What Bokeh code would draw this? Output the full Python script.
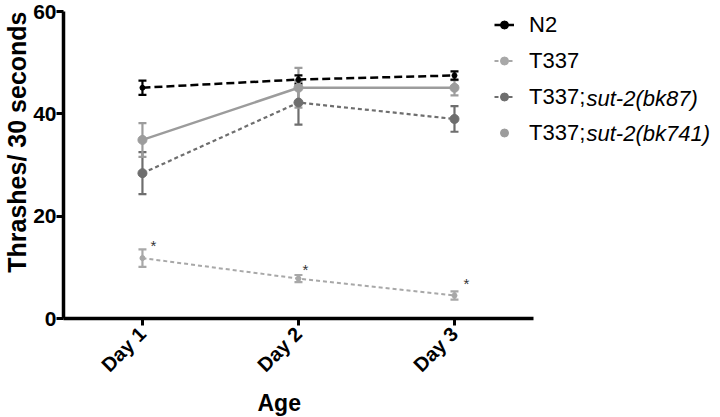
from bokeh.plotting import figure
from bokeh.models import (ColumnDataSource, Whisker, TeeHead, Legend, LegendItem,
                          Label, FixedTicker, Title)
from bokeh.core.properties import value
from bokeh.embed import file_html
from bokeh.resources import INLINE

# ---- data ----
days = [1, 2, 3]
day_labels = ["Day 1", "Day 2", "Day 3"]

n2_mean = [45.1, 46.7, 47.5]
n2_err = [1.4, 0.8, 0.8]

t337_mean = [11.8, 7.8, 4.5]
t337_err = [1.7, 0.7, 0.8]

bk87_mean = [28.4, 42.2, 39.0]
bk87_err = [4.1, 4.3, 2.5]

bk741_mean = [34.9, 45.1, 45.1]
bk741_err = [3.3, 3.9, 1.5]

sig_x = [1.07, 2.045, 3.077]
sig_y = [14.3, 9.5, 6.8]

series_names = ["N2", "T337", "T337;", "T337;"]
italic_parts = ["sut-2(bk87)", "sut-2(bk741)"]

FONT = "Liberation Sans"

p = figure(width=720, height=417, output_backend="svg", toolbar_location=None,
           x_range=(0.494, 4.705), y_range=(0, 60),
           min_border_left=63, min_border_right=0, min_border_top=11,
           min_border_bottom=99)
p.outline_line_color = None
p.xgrid.visible = False
p.ygrid.visible = False
p.background_fill_color = "white"

def add_series(mean, err, color, dash, lw, msize, marker="circle"):
    src = ColumnDataSource(dict(x=days, y=mean,
                                up=[m + e for m, e in zip(mean, err)],
                                lo=[m - e for m, e in zip(mean, err)]))
    w = Whisker(base="x", upper="up", lower="lo", source=src,
                line_color=color, line_width=2.2,
                upper_head=TeeHead(size=8, line_color=color, line_width=2.2),
                lower_head=TeeHead(size=8, line_color=color, line_width=2.2))
    p.add_layout(w)
    ln = p.line("x", "y", source=src, line_color=color, line_width=lw,
                line_dash=dash)
    sc = p.scatter("x", "y", source=src, marker=marker, size=msize,
                   fill_color=color, line_color=color)
    return ln, sc

c_n2, c_t337, c_bk87, c_bk741 = "#000000", "#a8a8a8", "#6e6e6e", "#9c9c9c"

l_t, s_t = add_series(t337_mean, t337_err, c_t337, "4 3", 2.0, 5)
l_87, s_87 = add_series(bk87_mean, bk87_err, c_bk87, "4 3", 2.2, 9)
l_741, s_741 = add_series(bk741_mean, bk741_err, c_bk741, "solid", 2.4, 9)
l_n2, s_n2 = add_series(n2_mean, n2_err, c_n2, "8 4", 2.5, 5)

p.text(x=sig_x, y=sig_y, text=["*"] * 3, text_font=value(FONT),
       text_font_size="15px", text_color="#333333", text_align="center",
       text_baseline="middle")

# axes
for ax in (p.xaxis[0], p.yaxis[0]):
    ax.axis_line_width = 3.5
    ax.axis_line_color = "black"
    ax.major_tick_line_width = 3
    ax.major_tick_out = 7
    ax.major_tick_in = 0
    ax.minor_tick_line_color = None
    ax.major_label_text_font = FONT
    ax.major_label_text_font_style = "bold"
    ax.major_label_text_color = "black"

p.xaxis.bounds = (0.494, 3.506)
p.xaxis.ticker = FixedTicker(ticks=days)
p.xaxis.major_label_overrides = {d: lab for d, lab in zip(days, day_labels)}
p.xaxis.major_label_orientation = 0.785398
p.xaxis.major_label_text_font_size = "20px"
p.xaxis.major_label_standoff = 5

p.yaxis.bounds = (0, 60)
p.yaxis.ticker = FixedTicker(ticks=[0, 20, 40, 60])
p.yaxis.major_label_text_font_size = "21px"
p.yaxis.major_label_standoff = 0

p.add_layout(Title(text="Thrashes/ 30 seconds", align="right", offset=0,
                   standoff=0, text_font=FONT, text_font_style="bold",
                   text_font_size="25px", text_color="black"), "left")
p.add_layout(Title(text="Age", align="left", offset=194, standoff=3,
                   text_font=FONT, text_font_style="bold",
                   text_font_size="23px", text_color="black"), "below")

legend = Legend(items=[
    LegendItem(label=series_names[0], renderers=[l_n2, s_n2]),
    LegendItem(label=series_names[1], renderers=[l_t, s_t]),
    LegendItem(label=series_names[2], renderers=[l_87, s_87]),
    LegendItem(label=series_names[3], renderers=[s_741]),
], location=(431, 172.5), padding=0, margin=0, spacing=10,
    glyph_width=20, glyph_height=25, label_height=25, label_standoff=15,
    label_text_font=FONT, label_text_font_size="22px",
    label_text_color="black", border_line_color=None,
    background_fill_alpha=0)
p.add_layout(legend)

for it, yy in zip(italic_parts, [220, 185]):
    p.add_layout(Label(x=523, y=yy, x_units="screen", y_units="screen",
                       text=it, text_font=FONT, text_font_style="italic",
                       text_font_size="22px", text_baseline="middle",
                       text_color="black"))

open("out.html", "w").write(file_html(p, INLINE))
